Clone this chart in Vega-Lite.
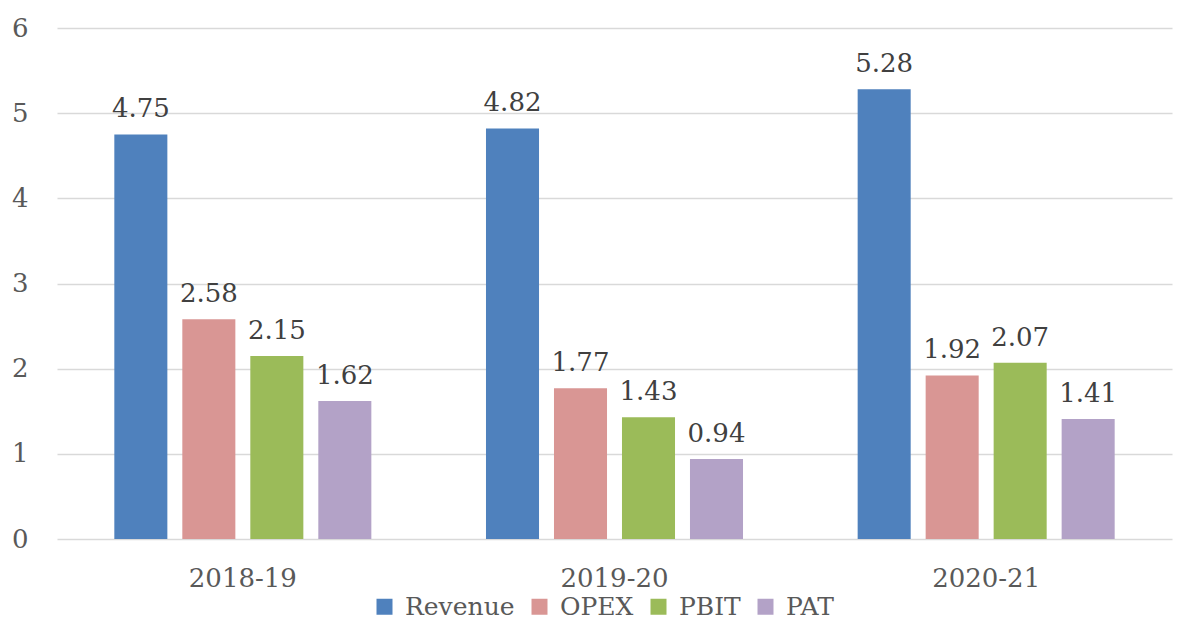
{
  "$schema": "https://vega.github.io/schema/vega-lite/v6.json",
  "width": 1115,
  "height": 511,
  "autosize": {"type": "none"},
  "padding": {"left": 57, "top": 28, "right": 5, "bottom": 90},
  "background": "white",
  "config": {
    "view": {"stroke": null},
    "font": "DejaVu Serif",
    "legend": {"labelFont": "DejaVu Serif", "labelFontSize": 25}
  },
  "data": {
    "values": [
      {"year": "2018-19", "metric": "Revenue", "value": 4.75},
      {"year": "2018-19", "metric": "OPEX", "value": 2.58},
      {"year": "2018-19", "metric": "PBIT", "value": 2.15},
      {"year": "2018-19", "metric": "PAT", "value": 1.62},
      {"year": "2019-20", "metric": "Revenue", "value": 4.82},
      {"year": "2019-20", "metric": "OPEX", "value": 1.77},
      {"year": "2019-20", "metric": "PBIT", "value": 1.43},
      {"year": "2019-20", "metric": "PAT", "value": 0.94},
      {"year": "2020-21", "metric": "Revenue", "value": 5.28},
      {"year": "2020-21", "metric": "OPEX", "value": 1.92},
      {"year": "2020-21", "metric": "PBIT", "value": 2.07},
      {"year": "2020-21", "metric": "PAT", "value": 1.41}
    ]
  },
  "encoding": {
    "x": {
      "field": "year",
      "type": "nominal",
      "sort": null,
      "scale": {"paddingInner": 0, "paddingOuter": 0},
      "axis": {
        "title": null,
        "domain": false,
        "ticks": false,
        "tickSize": 0,
        "labelAngle": 0,
        "labelFont": "DejaVu Serif",
        "labelFontSize": 26,
        "labelColor": "#595959",
        "labelBaseline": "alphabetic",
        "labelPadding": 47
      }
    },
    "xOffset": {
      "field": "metric",
      "type": "nominal",
      "sort": ["Revenue", "OPEX", "PBIT", "PAT"],
      "scale": {"paddingInner": 0.22, "paddingOuter": 0.843}
    },
    "y": {
      "field": "value",
      "type": "quantitative",
      "scale": {"domain": [0, 6], "nice": false},
      "axis": {
        "title": null,
        "values": [0, 1, 2, 3, 4, 5, 6],
        "domain": false,
        "ticks": false,
        "tickSize": 0,
        "grid": true,
        "gridColor": "#d9d9d9",
        "gridWidth": 1.3,
        "labelFont": "DejaVu Serif",
        "labelFontSize": 26,
        "labelColor": "#595959",
        "labelAlign": "right",
        "labelPadding": 29
      }
    }
  },
  "layer": [
    {
      "mark": {"type": "bar"},
      "encoding": {
        "color": {
          "field": "metric",
          "type": "nominal",
          "sort": ["Revenue", "OPEX", "PBIT", "PAT"],
          "scale": {
            "domain": ["Revenue", "OPEX", "PBIT", "PAT"],
            "range": ["#4F81BD", "#D99694", "#9BBB59", "#B3A2C7"]
          },
          "legend": {
            "title": null,
            "orient": "none",
            "legendX": 315,
            "legendY": 566,
            "direction": "horizontal",
            "symbolType": "square",
            "symbolSize": 256,
            "symbolStrokeWidth": 0,
            "labelFont": "DejaVu Serif",
            "labelFontSize": 25,
            "labelColor": "#595959",
            "labelOffset": 8,
            "columnPadding": 12,
            "padding": 0
          }
        }
      }
    },
    {
      "mark": {
        "type": "text",
        "baseline": "alphabetic",
        "dy": -17,
        "font": "DejaVu Serif",
        "fontSize": 26,
        "color": "#404040"
      },
      "encoding": {
        "text": {"field": "value", "type": "quantitative", "format": ".2f"}
      }
    }
  ]
}
